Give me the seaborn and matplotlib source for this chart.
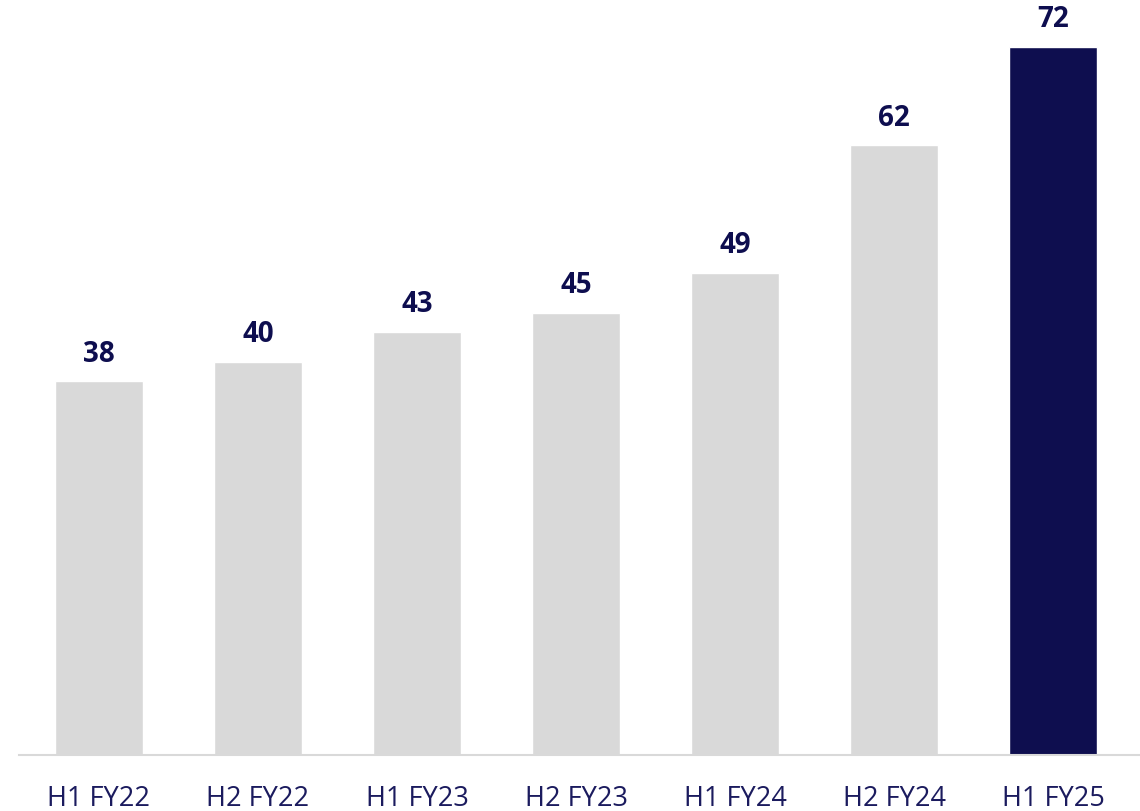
import matplotlib
matplotlib.use("Agg")
import matplotlib.pyplot as plt
import seaborn as sns
import pandas as pd

categories = ["H1 FY22", "H2 FY22", "H1 FY23", "H2 FY23", "H1 FY24", "H2 FY24", "H1 FY25"]
values = [38, 40, 43, 45, 49, 62, 72]
highlight = [False, False, False, False, False, False, True]

GRAY = "#D9D9D9"
NAVY = "#0E0E4F"
TEXT = "#1B1B5E"

sns.set_theme(style="white")
plt.rcParams['font.family'] = ['Open Sans', 'DejaVu Sans']

df = pd.DataFrame({"cat": categories, "val": values,
                   "grp": ["hi" if h else "base" for h in highlight]})

fig = plt.figure(figsize=(11.4, 8.12), dpi=100)
ax = fig.add_axes([19 / 1140, 56 / 812, 1121 / 1140, 756 / 812])

sns.barplot(data=df, x="cat", y="val", hue="grp", palette={"base": GRAY, "hi": NAVY},
            dodge=False, width=0.555, legend=False, ax=ax, saturation=1)

ax.set_xlim(-0.503, 6.547)
ax.set_ylim(0, 76.9)

for i, v in enumerate(values):
    ax.annotate(str(v), (i, v), xytext=(0, 10), textcoords="offset points",
                ha="center", va="bottom", fontsize=20, fontweight="bold", color=NAVY)

for s in ["top", "right", "left"]:
    ax.spines[s].set_visible(False)
ax.spines["bottom"].set_color(GRAY)
ax.spines["bottom"].set_linewidth(1.5)
ax.set_yticks([])
ax.set_xlabel("")
ax.set_ylabel("")
ax.tick_params(axis="x", length=0, pad=21, labelsize=19.5, labelcolor=TEXT)

fig.savefig("out.png", dpi=100)
